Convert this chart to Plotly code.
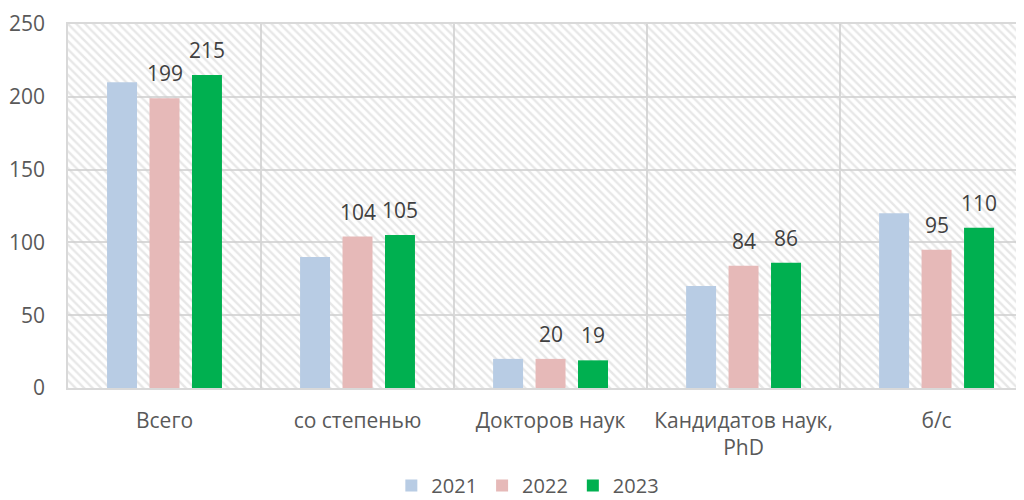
import plotly.graph_objects as go

categories = ["Всего", "со степенью", "Докторов наук", "Кандидатов наук,<br>PhD", "б/с"]
years = ["2021", "2022", "2023"]
values_2021 = [210, 90, 20, 70, 120]
values_2022 = [199, 104, 20, 84, 95]
values_2023 = [215, 105, 19, 86, 110]
series = [values_2021, values_2022, values_2023]
colors = ["#b8cce4", "#e6b9b8", "#00b050"]
labeled = [False, True, True]
y_ticks = [0, 50, 100, 150, 200, 250]

X_RANGE = [-0.5, 4.453]
Y_RANGE = [0, 250]
BARGAP = 0.34
GROUPGAP = 0.294
TEXT_COLOR = "#595959"
GRID = "#d9d9d9"
FONT = "Open Sans, DejaVu Sans, sans-serif"

fig = go.Figure()

# hatched plot background (on main axes, under the data subplot)
fig.add_trace(go.Bar(
    x=[(X_RANGE[0] + X_RANGE[1]) / 2], y=[Y_RANGE[1]],
    width=[X_RANGE[1] - X_RANGE[0] + 2],
    xaxis="x", yaxis="y",
    marker=dict(color="rgba(0,0,0,0)", line=dict(width=0),
                pattern=dict(shape="\\", fgcolor="#d0d0d0", bgcolor="rgba(0,0,0,0)",
                             size=6, solidity=0.4)),
    showlegend=False, hoverinfo="skip",
))

for yr, vals, col in zip(years, series, colors):
    fig.add_trace(go.Bar(
        x=categories, y=vals, name=yr, marker=dict(color=col, line=dict(width=0)),
        xaxis="x2", yaxis="y2",
    ))

# data labels for 2022 and 2023
n = len(years)
slot = (1 - BARGAP) / n
for i, (vals, lab) in enumerate(zip(series, labeled)):
    if not lab:
        continue
    off = (i - (n - 1) / 2) * slot
    for j, v in enumerate(vals):
        fig.add_annotation(
            x=j + off, y=v, xref="x", yref="y", text=str(v), showarrow=False,
            yanchor="middle", yshift=25,
            font=dict(size=21, color="#404040", family=FONT),
        )

fig.update_layout(
    width=1016, height=492,
    margin=dict(l=60, r=0, t=16, b=112, autoexpand=False),
    paper_bgcolor="white", plot_bgcolor="white",
    barmode="group", bargap=BARGAP, bargroupgap=GROUPGAP,
    font=dict(family=FONT, color=TEXT_COLOR, size=21),
    showlegend=True,
    legend=dict(orientation="h", x=0.481, xanchor="center", y=-0.268, yanchor="middle",
                font=dict(size=20, color=TEXT_COLOR), itemwidth=30, traceorder="normal"),
    xaxis=dict(range=X_RANGE, tickvals=[0.5, 1.5, 2.5, 3.5], showticklabels=False,
               showgrid=True, gridcolor=GRID, gridwidth=1.5, zeroline=False,
               showline=True, mirror=True, linecolor=GRID, linewidth=1.5, ticks=""),
    yaxis=dict(range=Y_RANGE, tickvals=y_ticks, showgrid=True, gridcolor=GRID, gridwidth=1.5,
               zeroline=False, showline=True, linecolor=GRID, linewidth=1.5, ticks="",
               tickfont=dict(size=21, color=TEXT_COLOR), ticklabelstandoff=17,
               automargin=False),
    xaxis2=dict(overlaying="x", anchor="y2", range=X_RANGE, type="category",
                showgrid=False, zeroline=False, showline=False, ticks="",
                tickfont=dict(size=21, color=TEXT_COLOR), ticklabelstandoff=18,
                automargin=False),
    yaxis2=dict(overlaying="y", anchor="x2", range=Y_RANGE, showgrid=False,
                zeroline=False, showticklabels=False, showline=False),
)

fig.write_html("out.html")
